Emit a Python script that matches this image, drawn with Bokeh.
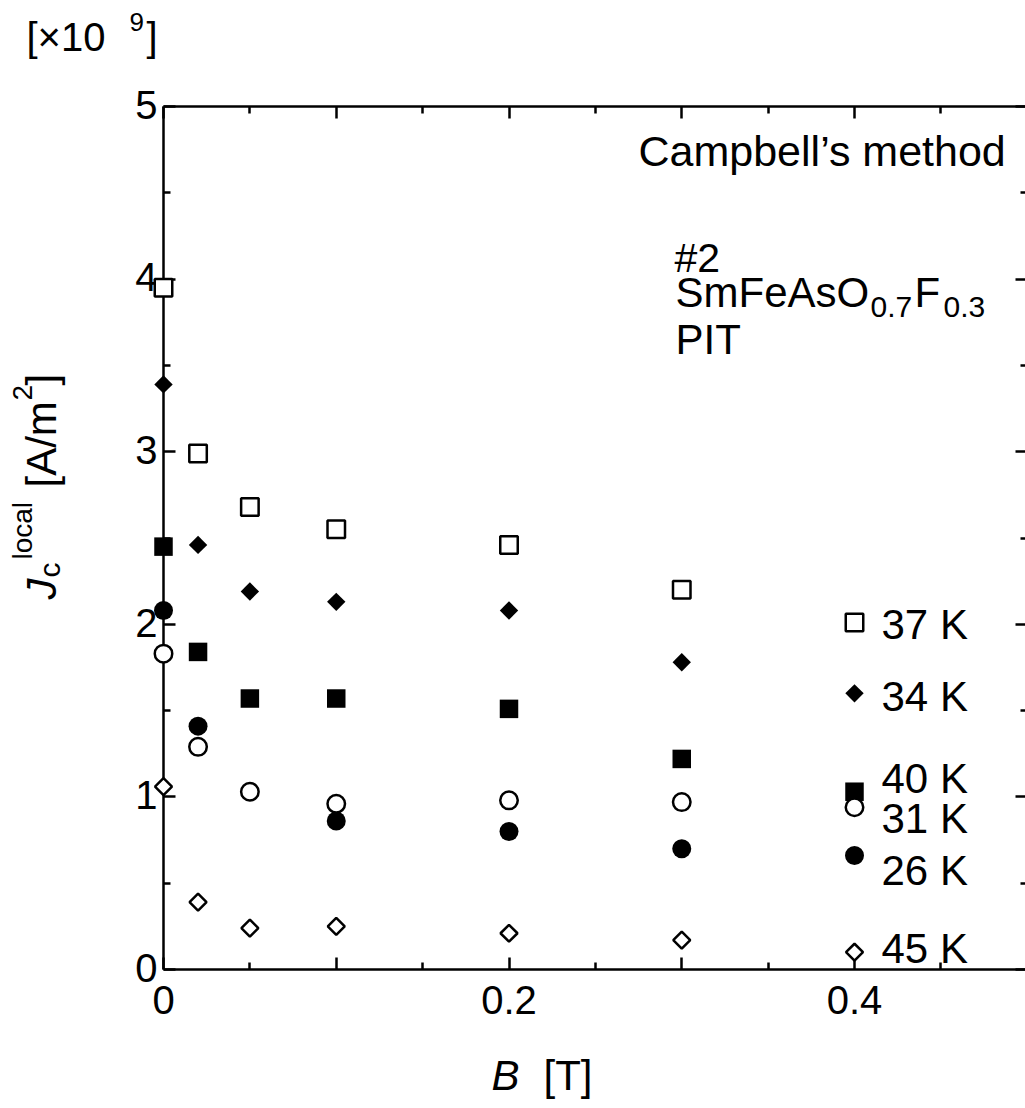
import numpy as np
from bokeh.plotting import figure
from bokeh.models import Label, LinearAxis, FixedTicker, Range1d
from bokeh.embed import file_html
from bokeh.resources import INLINE

# ---------------- data ----------------
B = [0, 0.02, 0.05, 0.1, 0.2, 0.3, 0.4]            # B [T]
jc_37K = [3.95, 2.99, 2.68, 2.55, 2.46, 2.20, 2.01]  # x1e9 A/m^2
jc_34K = [3.39, 2.46, 2.19, 2.13, 2.08, 1.78, 1.60]
jc_40K = [2.45, 1.84, 1.57, 1.57, 1.51, 1.22, 1.03]
jc_26K = [2.08, 1.41, float("nan"), 0.86, 0.80, 0.70, 0.66]
jc_31K = [1.83, 1.29, 1.03, 0.96, 0.98, 0.97, 0.94]
jc_45K = [1.06, 0.39, 0.24, 0.25, 0.21, 0.17, 0.10]

x_major = [0, 0.1, 0.2, 0.3, 0.4, 0.5]
x_minor = [0.05, 0.15, 0.25, 0.35, 0.45]
x_tick_labels = {0: "0", 0.2: "0.2", 0.4: "0.4"}
y_major = [0, 1, 2, 3, 4, 5]
y_minor = [0.5, 1.5, 2.5, 3.5, 4.5]
y_tick_labels = {0: "0", 1: "1", 2: "2", 3: "3", 4: "4", 5: "5"}
X_MAX, Y_MAX = 0.5, 5

# ---------------- layout ----------------
FONT = "Liberation Sans"
W, H = 1025, 1108
X0 = 163.0      # canvas x of B = 0
Y0 = 969.0      # canvas y of J = 0
PX_X = 1727.5   # pixels per tesla
PX_Y = 172.6    # pixels per 1e9 A/m^2
BASE_FIX = 0.4  # empirical baseline correction (fraction of font size)


def dx(px):
    return (px - X0) / PX_X


def dy(py):
    return (Y0 - py) / PX_Y


p = figure(width=W, height=H,
           x_range=Range1d(dx(0), dx(W)), y_range=Range1d(dy(H), dy(0)),
           output_backend="svg", toolbar_location=None,
           x_axis_location=None, y_axis_location=None,
           min_border_left=0, min_border_right=0,
           min_border_top=0, min_border_bottom=0)
p.outline_line_color = None
p.grid.grid_line_color = None
p.background_fill_color = "white"
p.border_fill_color = "white"


def make_axis(ticks, minor, loc, bounds):
    ax = LinearAxis(ticker=FixedTicker(ticks=ticks, minor_ticks=minor),
                    fixed_location=loc, bounds=bounds)
    ax.axis_line_width = 2.5
    ax.axis_line_color = "black"
    ax.major_tick_line_width = 2.5
    ax.minor_tick_line_width = 2.5
    ax.major_tick_line_color = "black"
    ax.minor_tick_line_color = "black"
    ax.major_tick_in = 12
    ax.major_tick_out = 0
    ax.minor_tick_in = 7
    ax.minor_tick_out = 0
    ax.major_label_text_font_size = "0px"
    ax.major_label_standoff = 0
    ax.major_label_overrides = {t: "" for t in ticks}
    return ax


p.add_layout(make_axis(x_major, x_minor, 0, (0, X_MAX)), "below")
p.add_layout(make_axis(x_major, x_minor, Y_MAX, (0, X_MAX)), "above")
p.add_layout(make_axis(y_major, y_minor, 0, (0, Y_MAX)), "left")
p.add_layout(make_axis(y_major, y_minor, X_MAX, (0, Y_MAX)), "right")

# ---------------- markers ----------------
bx = np.array(B, dtype=float)
p.scatter(bx, np.array(jc_37K, dtype=float), marker="square", size=17.5,
          fill_color="white", line_color="black", line_width=2.5, level="overlay")
p.scatter(bx, np.array(jc_34K, dtype=float), marker="square", angle=np.pi / 4, size=13,
          fill_color="black", line_color=None, level="overlay")
p.scatter(bx, np.array(jc_40K, dtype=float), marker="square", size=18.5,
          fill_color="black", line_color=None, level="overlay")
p.scatter(bx, np.array(jc_26K, dtype=float), marker="circle", size=19,
          fill_color="black", line_color=None, level="overlay")
p.scatter(bx, np.array(jc_31K, dtype=float), marker="circle", size=17.5,
          fill_color="white", line_color="black", line_width=2.5, level="overlay")
p.scatter(bx, np.array(jc_45K, dtype=float), marker="square", angle=np.pi / 4, size=12,
          fill_color="white", line_color="black", line_width=2.5, level="overlay")


# ---------------- texts ----------------
def add_text(txt, x, y, size, italic=False, angle=0.0, align="left"):
    p.add_layout(Label(x=x, y=y, x_units="data", y_units="data", text=txt,
                       text_font=FONT, text_font_size=f"{size}px",
                       text_font_style="italic" if italic else "normal",
                       text_align=align, text_baseline="alphabetic",
                       text_color="black", angle=angle))


def add_px(txt, px, py, size, italic=False, angle=0.0, align="left"):
    # (px, py): canvas position of the text baseline start
    if angle == 0.0:
        py = py - BASE_FIX * size
    else:
        px = px - BASE_FIX * size
    add_text(txt, dx(px), dy(py), size, italic, angle, align)


# tick labels
for t, s in x_tick_labels.items():
    add_text(s, t, dy(1015 - BASE_FIX * 40), 40, align="center")
for t, s in y_tick_labels.items():
    add_text(s, dx(157), t - (14.3 - BASE_FIX * 40) / PX_Y, 40, align="right")

# multiplier
add_px("[\u00d710", 26, 52, 40)
add_px("9", 129, 32, 26)
add_px("]", 146, 52, 40)

# annotations
add_px("Campbell\u2019s method", 638, 168, 43)
add_px("#2", 674, 274, 41)
add_px("SmFeAsO", 675, 309, 42)
add_px("0.7", 870, 318, 30)
add_px("F", 914, 309, 42)
add_px("0.3", 943, 318, 30)
add_px("PIT", 675, 356, 42)

# series labels
series_labels = ["37 K", "34 K", "40 K", "31 K", "26 K", "45 K"]
series_label_baselines = [641, 713, 795, 835, 887, 965]
for t, yb in zip(series_labels, series_label_baselines):
    add_px(t, 881, yb, 42)

# x axis title
add_px("B", 491, 1092, 42, italic=True)
add_px("[T]", 543, 1092, 42)

# y axis title (rotated)
R = np.pi / 2
add_px("J", 58, 599, 42, italic=True, angle=R)
add_px("c", 61, 577, 30, angle=R)
add_px("local", 33, 559, 28, angle=R)
add_px("[A/m", 58, 487, 42, angle=R)
add_px("2", 33, 400, 28, angle=R)
add_px("]", 58, 385, 42, angle=R)

open("out.html", "w").write(file_html(p, INLINE))
